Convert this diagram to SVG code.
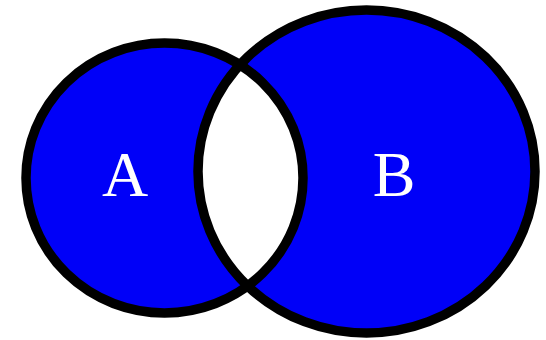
<svg xmlns="http://www.w3.org/2000/svg" width="546" height="340" viewBox="0 0 546 340">
  <style>
    .fill { fill: #0000f8; stroke: none; }
    .ring { fill: none; stroke: #000000; stroke-width: 9.5; }
    .lbl { font-family: "Liberation Serif", "Times New Roman", serif; font-size: 64px; fill: #ffffff; text-anchor: middle; }
  </style>
  <defs>
    <clipPath id="clipA">
      <ellipse cx="164.5" cy="178" rx="138.5" ry="135"/>
    </clipPath>
  </defs>
  <rect width="546" height="340" fill="#ffffff"/>
  <g id="setA">
    <ellipse class="fill" cx="164.5" cy="178" rx="138.5" ry="135"/>
  </g>
  <g id="setB">
    <ellipse class="fill" cx="366.5" cy="171.5" rx="168.5" ry="161.5"/>
  </g>
  <g id="intersection">
    <ellipse cx="366.5" cy="171.5" rx="168.5" ry="161.5" fill="#ffffff" clip-path="url(#clipA)"/>
  </g>
  <g id="outlines">
    <ellipse class="ring" cx="164.5" cy="178" rx="138.5" ry="135"/>
    <ellipse class="ring" cx="366.5" cy="171.5" rx="168.5" ry="161.5"/>
  </g>
  <g id="labels">
    <text class="lbl" x="125" y="196">A</text>
    <text class="lbl" x="394" y="196">B</text>
  </g>
</svg>
